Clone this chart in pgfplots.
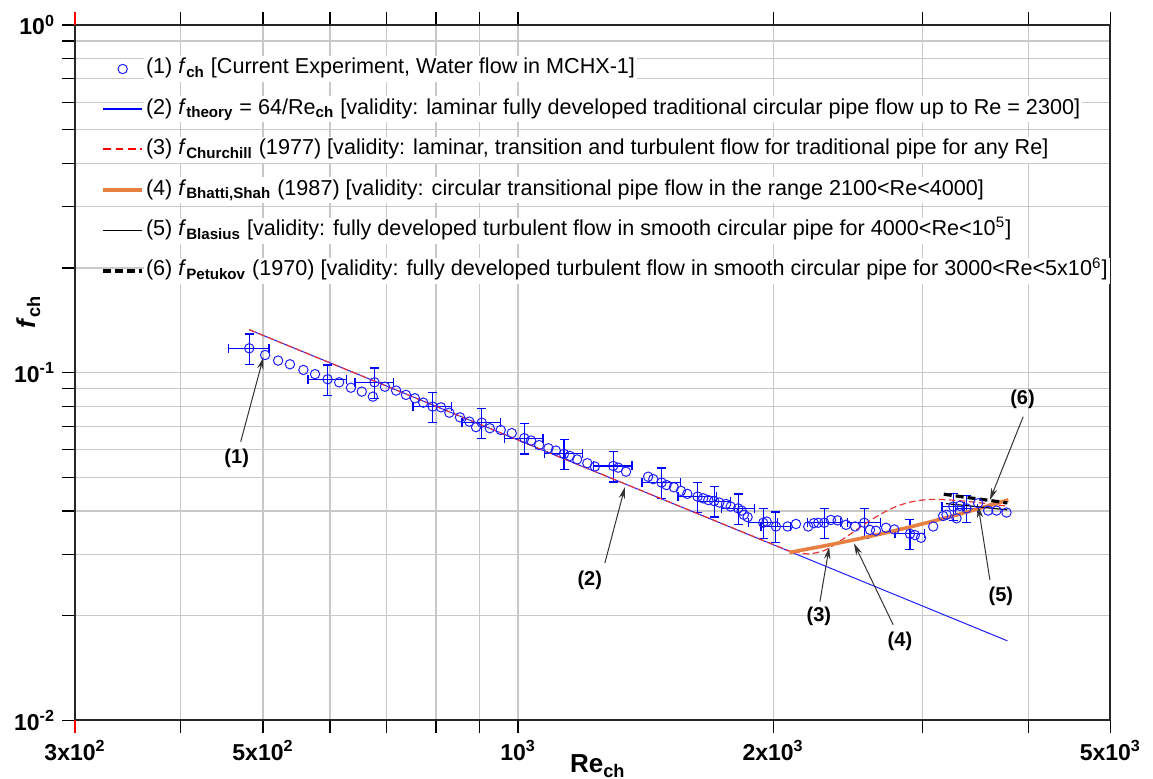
\documentclass[border=0pt]{standalone}
\usepackage{pgfplots}
\pgfplotsset{compat=1.18}
\usepackage{fontspec}
\setmainfont{Liberation Sans}
\usetikzlibrary{arrows.meta}
\definecolor{dblue}{RGB}{30,30,255}
\definecolor{ored}{RGB}{235,55,55}
\definecolor{orng}{RGB}{232,128,66}
\definecolor{gridc}{RGB}{200,200,200}
\pgfplotsset{
  marklegend/.style={legend image code/.code={\draw[mark repeat=2,mark phase=2,##1] plot coordinates {(0pt,0pt) (9.75pt,0pt) (19.5pt,0pt)};}},
  legA/.style={legend image code/.code={\draw[draw=blue,line width=0.7pt] (0pt,0.2pt) -- (19.5pt,0.2pt);}},
  legB/.style={legend image code/.code={\draw[draw=red,line width=0.9pt,dash pattern=on 3.8pt off 2.4pt] (0pt,0.25pt) -- (19.5pt,0.25pt);}},
  legC/.style={legend image code/.code={\draw[draw=orng,line width=1.8pt] (0pt,0pt) -- (19.5pt,0pt);}},
  legD/.style={legend image code/.code={\draw[draw=black,line width=0.6pt] (0pt,0pt) -- (19.5pt,0pt);}},
  legE/.style={legend image code/.code={\draw[draw=black,line width=1.6pt,dash pattern=on 4pt off 2pt] (0pt,0pt) -- (19.5pt,0pt);}},
}
\pgfplotstableread{
x y
502.9 0.1124
521 0.1083
538 0.1057
558 0.1018
576 0.0990
615 0.0938
635 0.0905
654 0.0882
674 0.0853
696.5 0.0911
718 0.0888
737.5 0.0863
755.5 0.0844
773 0.0820
811 0.0795
829.6 0.0767
854 0.0744
876 0.0723
892 0.0697
926 0.0692
954 0.0684
983 0.0670
1036 0.0638
1059 0.0619
1086 0.0606
1108 0.0597
1151 0.0576
1174 0.0563
1207 0.0549
1232 0.0537
1313 0.0533
1341 0.0519
1424 0.0502
1444 0.0494
1497 0.0475
1527 0.0468
1557 0.0457
1584 0.0448
1654 0.0435
1677 0.0430
1728 0.0423
1760 0.0419
1782 0.0412
1836 0.0401
1847 0.0390
1866 0.0384
1965 0.0373
2080 0.0361
2128 0.0367
2200 0.0361
2234 0.0369
2261 0.0370
2340 0.0377
2383 0.0376
2438 0.0365
2499 0.0361
2602 0.0353
2645 0.0351
2718 0.0358
2780 0.0354
2940 0.0341
2989 0.0335
3090 0.0361
3175 0.0387
3204 0.0390
3292 0.0381
3321 0.0414
3491 0.0421
3587 0.0401
3670 0.0401
3771 0.0396
}\expdata
\pgfplotstableread{
x y ex ey
481.7 0.1175 0.055 0.10
596 0.0957 0.052 0.10
677 0.0938 0.052 0.10
793 0.0799 0.052 0.10
906 0.0718 0.052 0.10
1017 0.0648 0.052 0.10
1133 0.0584 0.052 0.10
1295 0.0539 0.052 0.10
1477 0.0483 0.052 0.10
1629 0.0440 0.052 0.10
1704 0.0427 0.045 0.10
1819 0.0407 0.045 0.10
1947 0.0370 0.040 0.10
2015 0.0361 0.040 0.10
2298 0.0370 0.045 0.10
2562 0.0370 0.045 0.10
2901 0.0344 0.040 0.10
3263 0.0412 0.030 0.09
3382 0.0407 0.030 0.09
}\errdata
\begin{document}
\begin{tikzpicture}
\useasboundingbox (-37.5pt,-29.35pt) rectangle (539pt,360.15pt);
\begin{axis}[
  at={(0pt,0pt)}, anchor=south west,
  scale only axis, width=517.65pt, height=347.65pt,
  xmode=log, ymode=log,
  xmin=300, xmax=5000, ymin=0.01, ymax=1,
  clip=false,
  xtick={300,500,1000,2000,5000},
  xticklabels={3x10\textsuperscript{2},5x10\textsuperscript{2},10\textsuperscript{3},2x10\textsuperscript{3},5x10\textsuperscript{3}},
  minor xtick={400,600,700,800,900,3000,4000},
  ytick={0.01,0.1,1},
  yticklabels={10\textsuperscript{-2},10\textsuperscript{-1},10\textsuperscript{0}},
  minor ytick={0.02,0.03,0.04,0.05,0.06,0.07,0.08,0.09,0.2,0.3,0.4,0.5,0.6,0.7,0.8,0.9},
  grid=both,
  major grid style={gridc, line width=0.6pt},
  minor grid style={gridc, line width=0.6pt},
  tick align=outside,
  xtick pos=both, ytick pos=left, xticklabel pos=lower,
  major tick length=6.5pt, minor tick length=6.5pt,
  every tick/.style={black, line width=0.6pt},
  minor tick style={black, line width=0.6pt},
  axis line style={line width=1pt, black!85},
  tick label style={font=\bfseries\fontsize{11.5}{13}\selectfont},
  xlabel={\textbf{Re}\textsubscript{\textbf{ch}}},
  ylabel={\textbf{\textit{f}}\textsubscript{\textbf{ch}}},
  every axis x label/.style={at={(axis description cs:0.505,-0.0657)}, anchor=center, font=\fontsize{13}{15}\selectfont},
  every axis y label/.style={at={(axis description cs:-0.0451,0.5877)}, anchor=center, rotate=90, font=\fontsize{13}{15}\selectfont},
  legend cell align=left,
  legend style={at={(axis description cs:0.0251,0.956)}, anchor=north west, draw=none, fill=none, inner sep=0pt, row sep=7.2pt, column sep=0pt,
    font=\fontsize{10.8}{13}\selectfont,
    nodes={fill=white, inner sep=1pt, text height=8pt, text depth=3pt}},
]
\addplot[only marks, mark=o, mark size=2.35pt, dblue, mark options={line width=0.5pt}, marklegend]
  table[x=x,y=y] {\expdata};
\addlegendentry{(1) \textit{f}\textsubscript{\textbf{ch}} [Current Experiment, Water flow in MCHX-1]}
\addplot[forget plot, only marks, mark=o, mark size=2.35pt, color=dblue, mark options={line width=0.5pt},
  error bars/.cd, x dir=both, x explicit relative, y dir=both, y explicit relative,
  error bar style={line width=0.6pt, color=blue},
  error mark options={rotate=90, blue, line width=0.65pt, mark size=2.25pt}]
  table[x=x,y=y,x error=ex,y error=ey] {\errdata};
\addplot[dblue, line width=0.5pt, legA] coordinates {(481.7,0.1329) (3780,0.01693)};
\addlegendentry{(2) \textit{f}\textsubscript{\textbf{theory}} = 64/Re\textsubscript{\textbf{ch}} [validity: laminar fully developed traditional circular pipe flow up to Re = 2300]}
\addplot[ored, line width=0.6pt, dash pattern=on 3.3pt off 1.7pt, smooth, tension=0.4, legB] coordinates {
(481.7,0.1329) (1000,0.0640) (2000,0.03205) (2100,0.0307) (2200,0.0301) (2300,0.0308) (2400,0.0328) (2500,0.0351) (2600,0.0375) (2700,0.0396) (2800,0.0413) (2900,0.0424) (3000,0.0430) (3100,0.0432) (3200,0.0431) (3400,0.0426) (3600,0.0419) (3780,0.0413)};
\addlegendentry{(3) \textit{f}\textsubscript{\textbf{Churchill}} (1977) [validity: laminar, transition and turbulent flow for traditional pipe for any Re]}
\addplot[orng, line width=1.8pt, legC] coordinates {
(2090,0.0304) (2300,0.03175) (2500,0.0331) (2700,0.03451) (2900,0.03597) (3100,0.03748) (3300,0.03904) (3500,0.04065) (3700,0.0423) (3790,0.04307)};
\addlegendentry{(4) \textit{f}\textsubscript{\textbf{Bhatti,Shah}} (1987) [validity: circular transitional pipe flow in the range 2100<Re<4000]}
\addplot[black, line width=0.6pt, legD] coordinates {(3200,0.0420) (3400,0.0414) (3600,0.0408) (3780,0.0403)};
\addlegendentry{(5) \textit{f}\textsubscript{\textbf{Blasius}} [validity: fully developed turbulent flow in smooth circular pipe for 4000<Re<10\textsuperscript{5}]}
\addplot[black, line width=1.6pt, dash pattern=on 4pt off 2pt, legE] coordinates {(3180,0.0447) (3400,0.0437) (3600,0.0429) (3780,0.0422)};
\addlegendentry{(6) \textit{f}\textsubscript{\textbf{Petukov}} (1970) [validity: fully developed turbulent flow in smooth circular pipe for 3000<Re<5x10\textsuperscript{6}]}
% annotations
\tikzset{ann/.style={-{Stealth[length=6pt,width=3.2pt]}, line width=0.5pt, black!80},
         lab/.style={font=\bfseries\fontsize{10}{12}\selectfont}}
\draw[ann] (axis cs:470.6,0.0633) -- (axis cs:500.5,0.1107);
\node[lab] at (axis cs:465.5,0.0567) {(1)};
\draw[ann] (axis cs:1266,0.02835) -- (axis cs:1337,0.04691);
\node[lab] at (axis cs:1215,0.02533) {(2)};
\draw[ann] (axis cs:2271,0.02194) -- (axis cs:2329,0.03147);
\node[lab] at (axis cs:2265,0.01987) {(3)};
\draw[ann] (axis cs:2772,0.01881) -- (axis cs:2491,0.03229);
\node[lab] at (axis cs:2823,0.01684) {(4)};
\draw[ann] (axis cs:3605,0.02533) -- (axis cs:3492,0.04135);
\node[lab] at (axis cs:3714,0.02278) {(5)};
\draw[ann] (axis cs:3946,0.0747) -- (axis cs:3605,0.04303);
\node[lab] at (axis cs:3939,0.0838) {(6)};
\draw[red, line width=0.6pt] (axis cs:300,0.01) -- ++(0pt,-6.5pt);
\draw[red, line width=0.6pt] (axis cs:300,1) -- ++(0pt,6.5pt);
\end{axis}
\end{tikzpicture}
\end{document}
